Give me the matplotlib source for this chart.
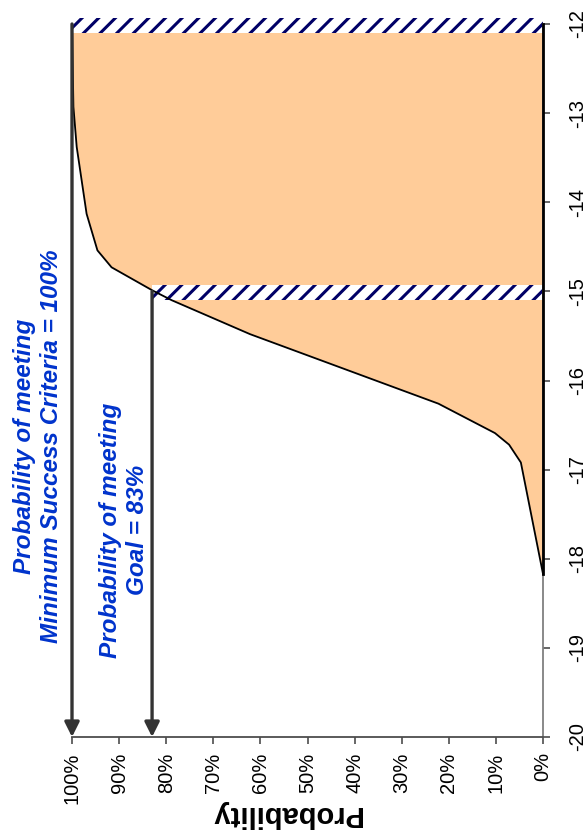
import matplotlib
matplotlib.use("Agg")
import matplotlib.pyplot as plt

plt.rcParams["font.family"] = ["Liberation Sans", "DejaVu Sans"]
plt.rcParams["axes.unicode_minus"] = False
plt.rcParams["hatch.linewidth"] = 2.2

# cumulative probability curve (probability, value)
curve_prob = [0.0, 0.047, 0.072, 0.102, 0.222, 0.622, 0.788, 0.829, 0.916, 0.946, 0.969, 0.990, 0.997, 1.0]
curve_value = [-18.17, -16.92, -16.72, -16.59, -16.26, -15.48, -15.10, -14.99, -14.73, -14.54, -14.13, -13.38, -12.93, -12.0]

# thresholds: goal and minimum success criteria
thr_value = [-15.0, -12.0]
thr_prob = [0.83, 1.0]
thr_text = ["Probability of meeting\nGoal = 83%",
            "Probability of meeting\nMinimum Success Criteria = 100%"]

prob_ticks = [1.0, 0.9, 0.8, 0.7, 0.6, 0.5, 0.4, 0.3, 0.2, 0.1, 0.0]
value_ticks = [-20, -19, -18, -17, -16, -15, -14, -13, -12]

PEACH = "#FFCC99"
NAVY = "#000066"
BLUE = "#0033CC"
ARROW = "#333333"

fig = plt.figure(figsize=(5.86, 8.38), dpi=100)
ax = fig.add_axes([72 / 586, 1 - 737 / 838, 471 / 586, 713 / 838])

# shaded area between curve and 0%
ax.fill_betweenx(curve_value, 0, curve_prob, facecolor=PEACH, edgecolor="none", zorder=1)
ax.plot(curve_prob, curve_value, color="black", lw=1.3, zorder=3)
ax.plot([0, 0], [curve_value[0], curve_value[-1]], color="black", lw=2.0, zorder=3, clip_on=False)

# hatched threshold bands + arrows down to the probability axis
for v, p in zip(thr_value, thr_prob):
    ax.fill_betweenx([v - 0.1, v + 0.07], 0, p, facecolor="white", hatch="//",
                     edgecolor=NAVY, linewidth=0, zorder=2, clip_on=False)
    ax.annotate("", xy=(p, -20), xytext=(p, v),
                arrowprops=dict(arrowstyle="-|>", color=ARROW, lw=2.4,
                                mutation_scale=22, shrinkA=0, shrinkB=0),
                zorder=4, annotation_clip=False)

ax.set_xlim(1.0, 0.0)
ax.set_ylim(-20, -12)
ax.set_xticks(prob_ticks)
ax.set_xticklabels([f"{int(round(t * 100))}%" for t in prob_ticks])
ax.set_yticks(value_ticks)
ax.set_yticklabels([str(t) for t in value_ticks])
ax.yaxis.tick_right()

for side in ["left", "top"]:
    ax.spines[side].set_visible(False)
ax.spines["bottom"].set_color("#4d4d4d")
ax.spines["bottom"].set_linewidth(1.3)
ax.spines["right"].set_color("#808080")
ax.spines["right"].set_linewidth(1.3)

ax.tick_params(axis="x", direction="out", length=5, width=1.2, color="#4d4d4d",
               labelsize=14.5, labelrotation=90, pad=6)
ax.tick_params(axis="y", direction="out", length=5, width=1.2, color="#4d4d4d",
               labelsize=14.5, labelrotation=90, pad=13)
for lab in ax.get_yticklabels():
    lab.set_va("center")

fig.text(286 / 586, 1 - 814 / 838, "Probability", rotation=180, fontsize=21,
         fontweight="bold", ha="center", va="center")

# annotations
fig.text(124 / 586, 1 - 530 / 838, thr_text[0], rotation=90, fontsize=17.5,
         fontweight="bold", fontstyle="italic", color=BLUE,
         ha="center", va="center", multialignment="center")
fig.text(38 / 586, 1 - 446 / 838, thr_text[1], rotation=90, fontsize=17.5,
         fontweight="bold", fontstyle="italic", color=BLUE,
         ha="center", va="center", multialignment="center")

fig.savefig("out.png", dpi=100)
